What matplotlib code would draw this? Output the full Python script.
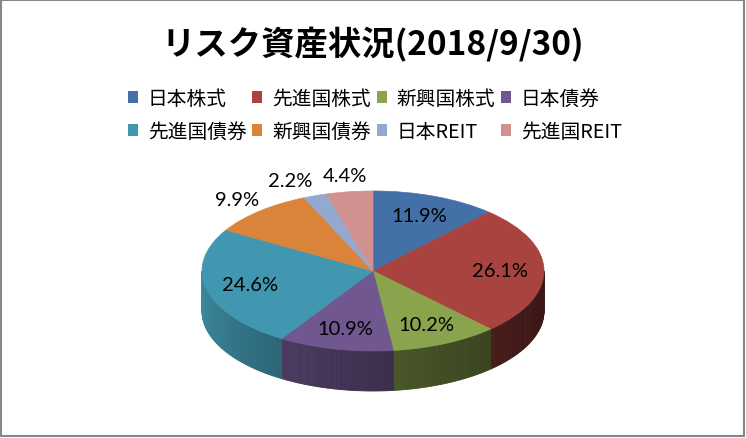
import matplotlib
matplotlib.use('Agg')
import matplotlib.pyplot as plt
from matplotlib.patches import Polygon, Rectangle, Patch
from matplotlib.font_manager import FontProperties
from matplotlib.colors import to_rgb
import numpy as np

title = 'リスク資産状況(2018/9/30)'
categories = ['日本株式', '先進国株式', '新興国株式', '日本債券',
              '先進国債券', '新興国債券', '日本REIT', '先進国REIT']
values = [11.9, 26.1, 10.2, 10.9, 24.6, 9.9, 2.2, 4.4]
colors = ['#4470A8', '#A8433F', '#89A44C', '#70578F',
          '#4197AF', '#DA833A', '#93A9CF', '#D29191']

W, H = 746, 439
fig = plt.figure(figsize=(W / 100, H / 100), dpi=100)
bg = fig.add_axes([0, 0, 1, 1])
bg.set_xlim(0, W)
bg.set_ylim(H, 0)
bg.axis('off')
bg.add_patch(Rectangle((1, 1), W - 3, H - 3, fill=False, edgecolor='#878787', lw=1.5))
bg.text(373, 45, title, fontsize=24, fontweight='bold', family=['Noto Sans CJK JP'],
        ha='center', va='center')

# legend (row-major order for 2 rows x 4 columns)
order = [0, 4, 1, 5, 2, 6, 3, 7]
handles = [Patch(facecolor=colors[i], edgecolor='none') for i in order]
leg_labels = [categories[i] for i in order]
bg.legend(handles, leg_labels, ncol=4, loc='center',
          bbox_to_anchor=(375 / W, 1 - 116 / H), bbox_transform=fig.transFigure,
          frameon=False, prop=FontProperties(family='Noto Sans CJK JP', size=14.2),
          handlelength=0.5, handleheight=0.5, handletextpad=0.5,
          columnspacing=0.3, labelspacing=0.6, borderpad=0)

# pie geometry (pixels)
cx, cy, rx, ry, depth = 373, 272, 171, 80, 40
d = depth / ry
pax = fig.add_axes([(cx - rx) / W, (H - (cy + ry + depth)) / H, 2 * rx / W, (2 * ry + depth) / H])
wedges, _ = pax.pie(values, colors=colors, startangle=90, counterclock=False,
                    wedgeprops=dict(linewidth=0.5))
pax.set_aspect('auto')
pax.set_xlim(-1, 1)
pax.set_ylim(-1 - d, 1)
pax.axis('off')
for w, c in zip(wedges, colors):
    w.set_edgecolor(c)
    w.set_clip_on(False)
    w.set_zorder(2)


def shade(c, f):
    return tuple(np.clip(np.array(to_rgb(c)) * f, 0, 1))


for w, c in zip(wedges, colors):
    t1, t2 = w.theta1, w.theta2
    for k in (-360, 0, 360):
        a, b = max(t1 + k, 180), min(t2 + k, 360)
        if b > a:
            angs = np.linspace(a, b, max(2, int(b - a) + 2))
            for a0, a1 in zip(angs[:-1], angs[1:]):
                r0, r1 = np.deg2rad(a0), np.deg2rad(a1)
                pts = [(np.cos(r0), np.sin(r0)), (np.cos(r1), np.sin(r1)),
                       (np.cos(r1), np.sin(r1) - d), (np.cos(r0), np.sin(r0) - d)]
                u = (360 - (a0 + a1) / 2) / 180
                f = 0.34 + 0.6 * u ** 1.5
                col = shade(c, f)
                pax.add_patch(Polygon(pts, closed=True, facecolor=col, edgecolor=col,
                                      lw=0.6, zorder=1, clip_on=False))

outside = []
for w, v in zip(wedges, values):
    m = np.deg2rad((w.theta1 + w.theta2) / 2)
    r = 1.2 if v < 10 else 0.74
    t = pax.text(r * np.cos(m), r * np.sin(m), f'{v:.1f}%', ha='center', va='center',
                 fontsize=14.5, family='Lato', zorder=5, clip_on=False)
    if v < 10:
        outside.append((np.cos(m), t))

# nudge outside labels apart (from right-most to left-most)
fig.canvas.draw()
ren = fig.canvas.get_renderer()
outside.sort(key=lambda p: -p[0])
gap = 10
inv = pax.transData.inverted()
for (c0, prev), (c1, cur) in zip(outside[:-1], outside[1:]):
    bp = prev.get_window_extent(ren)
    bc = cur.get_window_extent(ren)
    if bc.x1 > bp.x0 - gap and bc.y0 < bp.y1 and bc.y1 > bp.y0:
        shift = bc.x1 - (bp.x0 - gap)
        x, y = cur.get_position()
        disp = pax.transData.transform((x, y))
        nx, ny = inv.transform((disp[0] - shift, disp[1]))
        cur.set_position((nx, ny))

fig.savefig('out.png', dpi=100)
